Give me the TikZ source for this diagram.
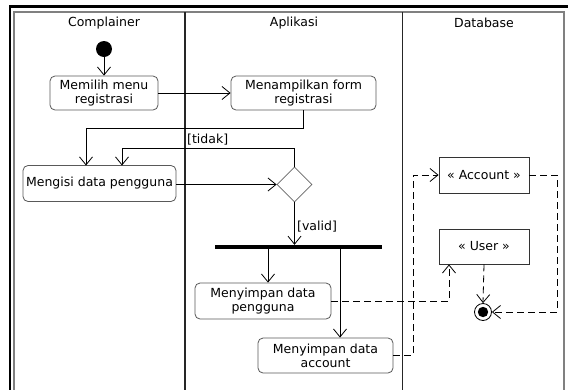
\documentclass[tikz,border=0pt]{standalone}
\usepackage{fontspec}
\setmainfont{DejaVu Sans}
\usetikzlibrary{arrows.meta,shapes.geometric}
\tikzset{
  uml/.style={font=\fontsize{12.5}{14}\selectfont},
  act/.style={uml, draw=black!65, line width=0.8pt, rounded corners=5pt,
    inner sep=0pt, align=center},
  obj/.style={uml, draw=black!80, line width=0.8pt, inner sep=0pt, align=center},
  flow/.style={line width=0.8pt, -{Straight Barb[length=8pt,width=13pt,line width=0.8pt]}},
  dflow/.style={flow, dash pattern=on 7pt off 4pt},
  lane/.style={line width=1.4pt, black!85},
  guard/.style={uml, anchor=west, inner sep=0pt},
}
\begin{document}
\begin{tikzpicture}[x=1pt, y=-1pt]
\useasboundingbox (0,0) rectangle (568,389);
\fill[white] (0,0) rectangle (568,389);

% swimlane frame
\draw[line width=2.4pt] (10,391) -- (10,6.5) -- (570,6.5);
\draw[black!50, line width=1.4pt] (14,391) -- (14,12) -- (564,12) -- (564,391);
\draw[lane] (185,12) -- (185,391);
\draw[lane] (402.5,12) -- (402.5,391);

% lane headers
\node[uml] (hc) at (104,23) {Complainer};
\node[uml] (ha) at (294,23) {Aplikasi};
\node[uml] (hd) at (484,23) {Database};

% nodes
\node[circle, fill=black, minimum size=16pt, inner sep=0pt] (start) at (104,49) {};
\node[act, minimum width=108pt, minimum height=34pt] (memilih) at (104,93) {Memilih menu\\registrasi};
\node[act, minimum width=145pt, minimum height=34pt] (tampil) at (303.5,93) {Menampilkan form\\registrasi};
\node[act, minimum width=153pt, minimum height=36pt] (mengisi) at (99.5,183.5) {Mengisi data pengguna};
\node[diamond, draw=black!60, line width=0.8pt, minimum width=35pt, minimum height=35pt, inner sep=0pt] (dec) at (294.5,184.5) {};
\node[fill=black, minimum width=167pt, minimum height=4pt, inner sep=0pt] (fork) at (298.5,247) {};
\node[act, minimum width=136pt, minimum height=36pt] (simpanp) at (263,301) {Menyimpan data\\pengguna};
\node[act, minimum width=135pt, minimum height=35pt] (simpana) at (325.5,355.5) {Menyimpan data\\account};
\node[obj, minimum width=90pt, minimum height=36pt] (acc) at (484,175) {« Account »};
\node[obj, minimum width=90pt, minimum height=35pt] (usr) at (484,246.5) {« User »};
\node[circle, draw=black, line width=0.8pt, minimum size=17pt, inner sep=0pt] (final) at (483,312) {};
\fill (final.center) circle (5.2pt);

% control flow
\draw[flow] (start) -- (memilih);
\draw[flow] (memilih) -- (tampil);
\draw[flow] (tampil.south) -- (303.5,128) -- (86,128) -- (86,165.5);
\draw[flow] (dec.north) -- (294.5,148) -- (122,148) -- (122,165.5);
\node[guard] (ltidak) at (187,140) {[tidak]};
\draw[flow] (mengisi.east |- dec.west) -- (dec.west);
\draw[flow] (dec.south) -- (dec.south |- fork.north);
\node[guard] (lvalid) at (297,227) {[valid]};
\draw[flow] (fork.south -| 268,0) -- (simpanp.north -| 268,0);
\draw[flow] (fork.south -| 340,0) -- (simpana.north -| 340,0);

% object flow
\draw[dflow] (simpanp.east) -- (449,301) -- (usr.south -| 449,0);
\draw[dflow] (simpana.east) -- (413,355.5) -- (413,175) -- (acc.west);
\draw[dflow] (acc.east) -- (557,175) -- (557,312) -- (final.east);
\draw[dflow] (usr.south) -- (final.north);
\end{tikzpicture}
\end{document}
